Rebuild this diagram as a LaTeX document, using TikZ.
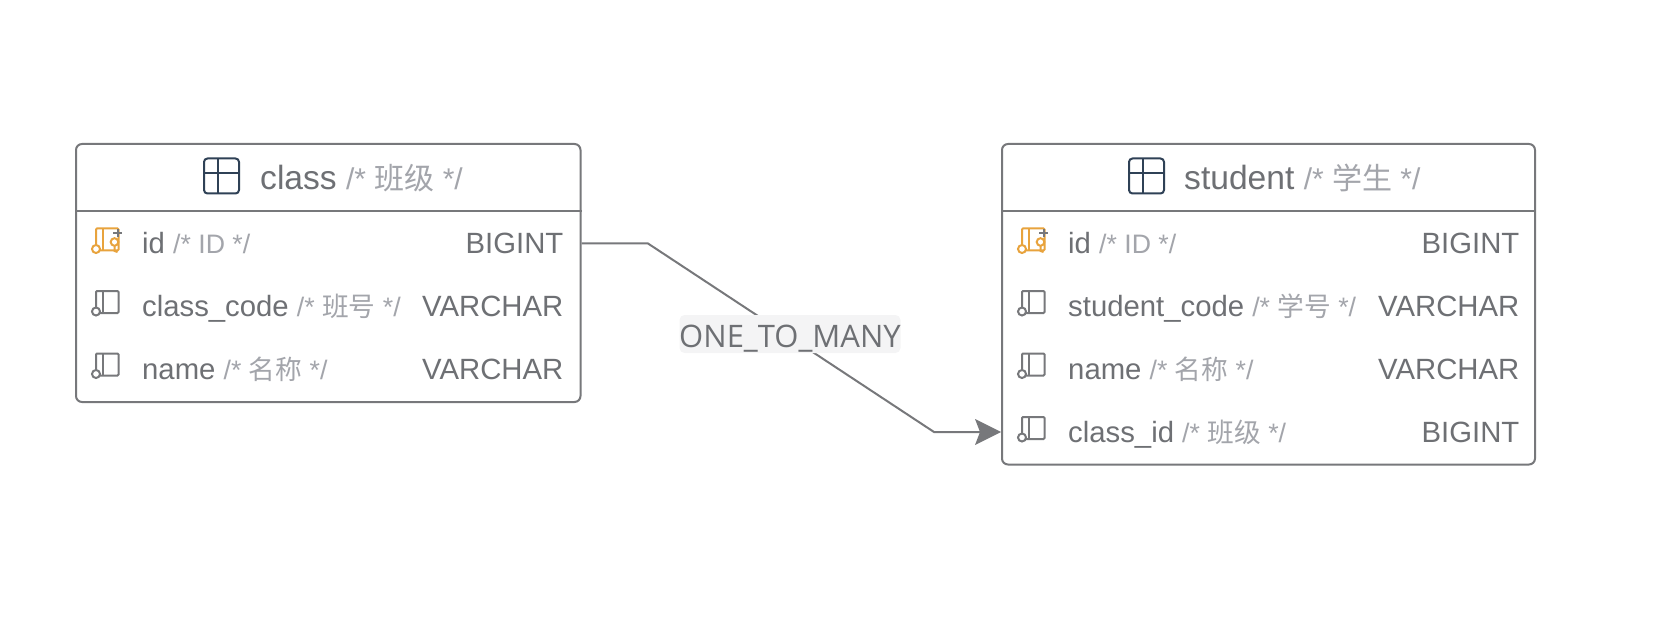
\documentclass[tikz,border=0pt]{standalone}
\usepackage{fontspec}
\setmainfont{Liberation Sans}
\newfontfamily\cjkf{Noto Sans CJK SC}
\newfontfamily\labelf{Open Sans}
\definecolor{edgec}{HTML}{77787B}
\definecolor{txt}{HTML}{6E7074}
\definecolor{cmt}{HTML}{A3A5AB}
\definecolor{keyc}{HTML}{E8A33D}
\definecolor{iconc}{HTML}{2F4156}
\definecolor{labbg}{HTML}{F4F4F5}
\tikzset{
  tbox/.style={draw=edgec,line width=2pt,rounded corners=6pt,inner sep=0pt,fill=white},
  rowname/.style={anchor=base west,inner sep=0pt,text=txt,font=\fontsize{29.3}{30}\selectfont},
  rowtype/.style={anchor=base east,inner sep=0pt,text=txt,font=\fontsize{29.3}{30}\selectfont},
  titlet/.style={anchor=base west,inner sep=0pt,text=txt,font=\fontsize{33.6}{34}\selectfont},
  relline/.style={draw=edgec,line width=2pt},
}
\newcommand{\cm}[1]{\textcolor{cmt}{\fontsize{26.7}{28}\selectfont #1}}
\newcommand{\cmt}[1]{\textcolor{cmt}{\fontsize{30}{32}\selectfont #1}}
\newcommand{\cj}[1]{{\cjkf #1}}
\newcommand{\rowicon}[3]{% x, y centre, colour
  \begin{scope}[shift={(#1,#2)},draw=#3,line width=2pt]
    \draw[rounded corners=1pt] (0,-15) rectangle (22.5,7);
    \draw (7,-15) -- (7,7);
    \draw[fill=white] (0,5.5) circle (4);
  \end{scope}}
\newcommand{\keyicon}[2]{%
  \rowicon{#1}{#2}{keyc}
  \begin{scope}[shift={(#1,#2)},line width=2pt]
    \draw[keyc,fill=white] (18.5,-1.5) circle (3.8);
    \draw[keyc] (18.5,2.3) -- (18.5,7.5) -- (21.5,8.5);
    \draw[edgec] (17,-10) -- (25.5,-10) (21.5,-14) -- (21.5,-6);
  \end{scope}}
\newcommand{\tblicon}[2]{%
  \begin{scope}[shift={(#1,#2)},draw=iconc,line width=2pt]
    \draw[rounded corners=3.5pt] (0,0) rectangle (35,35);
    \draw (14,0) -- (14,35) (0,15) -- (35,15);
  \end{scope}}
\begin{document}
\begin{tikzpicture}[x=1pt,y=-1pt]
\useasboundingbox (0,0) rectangle (1659,620);
\node[tbox,minimum width=504.5pt,minimum height=258pt] (classbox) at (328.25,273) {};
\node[tbox,minimum width=533pt,minimum height=320.5pt] (studentbox) at (1268.5,304.25) {};
\draw[edgec,line width=2pt] (classbox.west |- 0,211) -- (classbox.east |- 0,211);
\draw[edgec,line width=2pt] (studentbox.west |- 0,211) -- (studentbox.east |- 0,211);
\tblicon{204}{158.5}
\tblicon{1129}{158.5}
\node[titlet] (classtitle) at (260,189.5) {class \cmt{/* \cj{班级} */}};
\node[titlet] (studenttitle) at (1184,189.5) {student \cmt{/* \cj{学生} */}};
\keyicon{96}{243.5}
\rowicon{96}{306}{edgec}
\rowicon{96}{368.5}{edgec}
\node[rowname] (c1) at (142,253.5) {id \cm{/* ID */}};
\node[rowname] (c2) at (142,316.5) {class\_code \cm{/* \cj{班号} */}};
\node[rowname] (c3) at (142,379) {name \cm{/* \cj{名称} */}};
\node[rowtype] (c1t) at (563.5,253.5) {BIGINT};
\node[rowtype] (c2t) at (563.5,316.5) {VARCHAR};
\node[rowtype] (c3t) at (563.5,379) {VARCHAR};
\keyicon{1022}{243.5}
\rowicon{1022}{306}{edgec}
\rowicon{1022}{368.5}{edgec}
\rowicon{1022}{432}{edgec}
\node[rowname] (s1) at (1068,253.5) {id \cm{/* ID */}};
\node[rowname] (s2) at (1068,316.5) {student\_code \cm{/* \cj{学号} */}};
\node[rowname] (s3) at (1068,379) {name \cm{/* \cj{名称} */}};
\node[rowname] (s4) at (1068,442) {class\_id \cm{/* \cj{班级} */}};
\node[rowtype] (s1t) at (1519.5,253.5) {BIGINT};
\node[rowtype] (s2t) at (1519.5,316.5) {VARCHAR};
\node[rowtype] (s3t) at (1519.5,379) {VARCHAR};
\node[rowtype] (s4t) at (1519.5,442) {BIGINT};
\coordinate (relstart) at (classbox.east |- 0,243.5);
\coordinate (relend) at (studentbox.west |- 0,432);
\coordinate (bend1) at (648,243.5);
\coordinate (bend2) at (934,432);
\draw[relline] (relstart) -- (bend1) -- (bend2) -- (980,432);
\fill[edgec] (relend) -- (975,419) -- (980,432) -- (975,445) -- cycle;
\node[fill=labbg,rounded corners=5pt,inner sep=0pt,minimum width=221pt,minimum height=38pt] (rellabel) at (790,334) {};
\node[inner sep=0pt,anchor=center,text=txt,font=\labelf\fontsize{31}{32}\selectfont] (rellabeltext) at (790,338.5) {ONE\_TO\_MANY};
\end{tikzpicture}
\end{document}
